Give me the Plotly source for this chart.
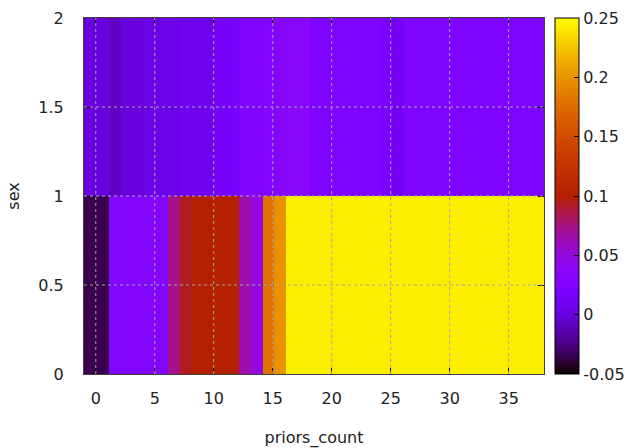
import math
import plotly.graph_objects as go

# priors_count bins 0..37, sex rows 0 and 1
priors_count = list(range(38))
sex = [0, 1]

# mean value per (sex, priors_count) cell
values_sex0 = [
    -0.035, -0.035, 0.028, 0.028, 0.028, 0.031, 0.031, 0.073, 0.094, 0.102,
    0.102, 0.100, 0.100, 0.064, 0.049, 0.178, 0.199, 0.243, 0.243, 0.243,
    0.243, 0.243, 0.243, 0.243, 0.243, 0.243, 0.243, 0.243, 0.243, 0.243,
    0.243, 0.243, 0.243, 0.243, 0.243, 0.243, 0.243, 0.243,
]
values_sex1 = [
    0.001, 0.001, -0.008, 0.000, 0.000, 0.004, 0.004, 0.004, 0.008, 0.008,
    0.008, 0.016, 0.016, 0.025, 0.026, 0.030, 0.034, 0.035, 0.035, 0.024,
    0.024, 0.024, 0.024, 0.023, 0.023, 0.020, 0.011, 0.023, 0.023, 0.023,
    0.023, 0.023, 0.023, 0.023, 0.023, 0.023, 0.023, 0.023,
]

x_ticks = [0, 5, 10, 15, 20, 25, 30, 35]
y_ticks = [0, 0.5, 1, 1.5, 2]
y_tick_labels = ["0", "0.5", "1", "1.5", "2"]
cb_ticks = [-0.05, 0, 0.05, 0.1, 0.15, 0.2, 0.25]
cb_tick_labels = ["-0.05", "0", "0.05", "0.1", "0.15", "0.2", "0.25"]

X_RANGE = [-1, 38]
Y_RANGE = [0, 2]

# cell boundaries along priors_count
x_edges = [X_RANGE[0]] + [k + 0.15 for k in priors_count[:-1]] + [X_RANGE[1]]
y_edges = [0, 1, 2]


# gnuplot rgbformulae 7,5,15 palette
def palette(n=64):
    scale = []
    for i in range(n + 1):
        t = i / n
        r = math.sqrt(t)
        g = t ** 3
        b = max(0.0, min(1.0, math.sin(2 * math.pi * t)))
        scale.append([t, "rgb(%d,%d,%d)" % (round(r * 255), round(g * 255), round(b * 255))])
    return scale


FONT = dict(family="DejaVu Sans", size=16, color="#222222")

fig = go.Figure(
    go.Heatmap(
        x=x_edges,
        y=y_edges,
        z=[values_sex0, values_sex1],
        zmin=-0.05,
        zmax=0.25,
        colorscale=palette(),
        colorbar=dict(
            thickness=24,
            len=1,
            lenmode="fraction",
            y=0.5,
            yanchor="middle",
            ypad=0,
            x=1.024,
            xanchor="left",
            xpad=0,
            outlinewidth=1,
            outlinecolor="#000000",
            tickvals=cb_ticks,
            ticktext=cb_tick_labels,
            ticks="inside",
            ticklen=5,
            tickcolor="#000000",
            tickfont=FONT,
        ),
        hoverinfo="skip",
    )
)

grid = dict(type="line", layer="above", line=dict(color="#a8a8a8", width=1, dash="dot"))
for xv in x_ticks:
    fig.add_shape(x0=xv, x1=xv, y0=Y_RANGE[0], y1=Y_RANGE[1], xref="x", yref="y", **grid)
for yv in y_ticks[1:-1]:
    fig.add_shape(x0=X_RANGE[0], x1=X_RANGE[1], y0=yv, y1=yv, xref="x", yref="y", **grid)

axis_common = dict(
    showgrid=False,
    zeroline=False,
    showline=True,
    linecolor="#404040",
    linewidth=1,
    mirror="ticks",
    ticks="inside",
    ticklen=6,
    tickcolor="#000000",
    tickfont=FONT,
    layer="above traces",
)

fig.update_layout(
    width=636,
    height=448,
    margin=dict(l=84, r=92, t=18, b=74, autoexpand=False),
    paper_bgcolor="white",
    plot_bgcolor="white",
    font=FONT,
    xaxis=dict(
        range=X_RANGE,
        tickvals=x_ticks,
        ticktext=[str(v) for v in x_ticks],
        ticklabelstandoff=10,
        title=dict(text="priors_count", font=FONT, standoff=24),
        **axis_common,
    ),
    yaxis=dict(
        range=Y_RANGE,
        tickvals=y_ticks,
        ticktext=y_tick_labels,
        ticklabelstandoff=16,
        title=dict(text="sex", font=FONT, standoff=14),
        **axis_common,
    ),
)

fig.write_html("out.html")
